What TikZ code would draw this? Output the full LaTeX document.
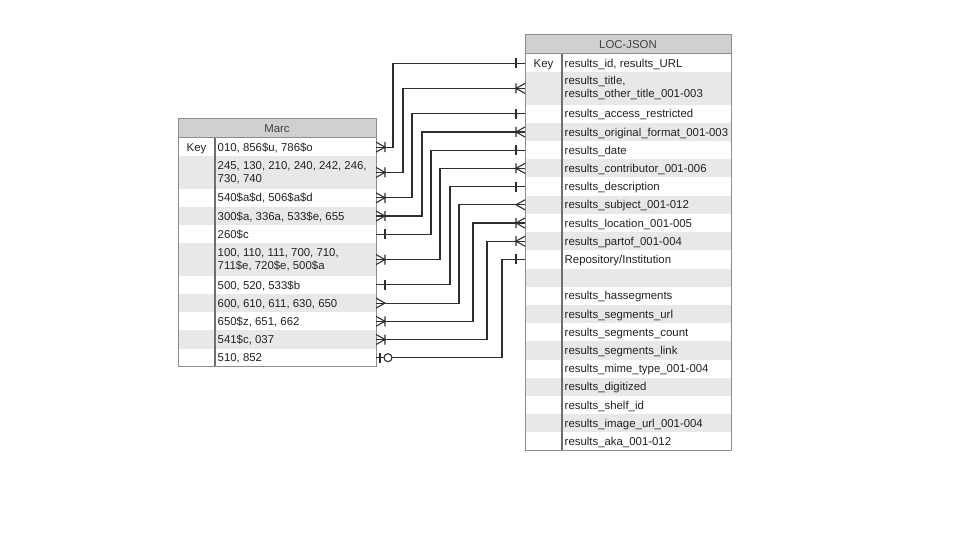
\documentclass[tikz,border=0pt]{standalone}
\usepackage{fontspec}
\setmainfont{Liberation Sans}
\definecolor{headfill}{HTML}{D0D0D0}
\definecolor{stripe}{HTML}{E8E8E8}
\definecolor{framecol}{HTML}{8C8C8C}
\definecolor{divcol}{HTML}{6E6E6E}
\definecolor{inkcol}{HTML}{222222}
\definecolor{wirecol}{HTML}{2E2E2E}

% one table row: name, top-left corner, width, height, fill, key text, field text
\newcommand\tabrow[7]{%
  \node[rowcell, minimum width=#3, minimum height=#4, fill=#5] (#1) at (#2) {};
  \node[keytxt] at ([xshift=18.5pt]#1.west) {#6};
  \node[fldtxt] at ([xshift=39.5pt]#1.west) {#7};
}
% same, for a field that wraps onto two lines
\newcommand\tabrowtwo[7]{%
  \node[rowcell, minimum width=#3, minimum height=#4, fill=#5] (#1) at (#2) {};
  \node[keytxt] at ([xshift=18.5pt]#1.west) {#6};
  \node[fldtwo] at ([xshift=39.5pt]#1.west) {#7};
}

\begin{document}
\begin{tikzpicture}[x=1pt,y=-1pt,
  rowcell/.style={shape=rectangle, draw=none, inner sep=0pt, outer sep=0pt, anchor=north west},
  headcell/.style={rowcell, fill=headfill, text=inkcol!85, font=\fontsize{11.4}{13}\selectfont,
                   text height=8.2pt, text depth=0pt},
  keytxt/.style={anchor=center, inner sep=0pt, text=inkcol, font=\fontsize{11.4}{13}\selectfont,
                 text height=8.2pt, text depth=0pt},
  fldtxt/.style={anchor=west, inner sep=0pt, text=inkcol, font=\fontsize{11.4}{13}\selectfont,
                 text height=8.2pt, text depth=0pt},
  fldtwo/.style={anchor=west, inner sep=0pt, text=inkcol, font=\fontsize{11.4}{13}\selectfont,
                 align=left},
  frame/.style={draw=framecol, line width=1pt},
  divider/.style={draw=divcol, line width=1.4pt},
  conn/.style={draw=wirecol, line width=1.1pt},
  crowbar/.pic={\draw[conn] (0,-5) -- (9,0) -- (0,5) (9,-5) -- (9,5);},
  crow/.pic={\draw[conn] (0,-5) -- (9,0) -- (0,5);},
  onebar/.pic={\draw[conn] (9,-5) -- (9,5);},
  zeroone/.pic={\draw[conn] (4,-5) -- (4,5); \draw[conn, fill=white] (12,0) circle (4);}
]
\useasboundingbox (0,0) rectangle (960,540);

% ---------------- Marc ----------------
\node[headcell, minimum width=198pt, minimum height=19pt] (mhead) at (178,119) {Marc};
\tabrow   {m1}{mhead.south west}{198pt}{18.2pt}{white}{Key}{010, 856\$u, 786\$o}
\tabrowtwo{m2}{m1.south west}{198pt}{32.5pt}{stripe}{}{245, 130, 210, 240, 242, 246,\\730, 740}
\tabrow   {m3}{m2.south west}{198pt}{18.2pt}{white}{}{540\$a\$d, 506\$a\$d}
\tabrow   {m4}{m3.south west}{198pt}{18.2pt}{stripe}{}{300\$a, 336a, 533\$e, 655}
\tabrow   {m5}{m4.south west}{198pt}{18.2pt}{white}{}{260\$c}
\tabrowtwo{m6}{m5.south west}{198pt}{32.5pt}{stripe}{}{100, 110, 111, 700, 710,\\711\$e, 720\$e, 500\$a}
\tabrow   {m7}{m6.south west}{198pt}{18.2pt}{white}{}{500, 520, 533\$b}
\tabrow   {m8}{m7.south west}{198pt}{18.2pt}{stripe}{}{600, 610, 611, 630, 650}
\tabrow   {m9}{m8.south west}{198pt}{18.2pt}{white}{}{650\$z, 651, 662}
\tabrow  {m10}{m9.south west}{198pt}{18.2pt}{stripe}{}{541\$c, 037}
\tabrow  {m11}{m10.south west}{198pt}{18.2pt}{white}{}{510, 852}
\draw[frame] (mhead.south west) -- (mhead.south east);
\draw[divider] ([xshift=37pt]m1.north west) -- ([xshift=37pt]m11.south west);
\draw[frame] (mhead.north west) rectangle (m11.south east);

% ---------------- LOC-JSON ----------------
\node[headcell, minimum width=206pt, minimum height=19pt] (jhead) at (525,35) {LOC-JSON};
\tabrow   {j1}{jhead.south west}{206pt}{18.2pt}{white}{Key}{results\_id, results\_URL}
\tabrowtwo{j2}{j1.south west}{206pt}{32.5pt}{stripe}{}{results\_title,\\results\_other\_title\_001-003}
\tabrow   {j3}{j2.south west}{206pt}{18.2pt}{white}{}{results\_access\_restricted}
\tabrow   {j4}{j3.south west}{206pt}{18.2pt}{stripe}{}{results\_original\_format\_001-003}
\tabrow   {j5}{j4.south west}{206pt}{18.2pt}{white}{}{results\_date}
\tabrow   {j6}{j5.south west}{206pt}{18.2pt}{stripe}{}{results\_contributor\_001-006}
\tabrow   {j7}{j6.south west}{206pt}{18.2pt}{white}{}{results\_description}
\tabrow   {j8}{j7.south west}{206pt}{18.2pt}{stripe}{}{results\_subject\_001-012}
\tabrow   {j9}{j8.south west}{206pt}{18.2pt}{white}{}{results\_location\_001-005}
\tabrow  {j10}{j9.south west}{206pt}{18.2pt}{stripe}{}{results\_partof\_001-004}
\tabrow  {j11}{j10.south west}{206pt}{18.2pt}{white}{}{Repository/Institution}
\tabrow  {j12}{j11.south west}{206pt}{18.2pt}{stripe}{}{}
\tabrow  {j13}{j12.south west}{206pt}{18.2pt}{white}{}{results\_hassegments}
\tabrow  {j14}{j13.south west}{206pt}{18.2pt}{stripe}{}{results\_segments\_url}
\tabrow  {j15}{j14.south west}{206pt}{18.2pt}{white}{}{results\_segments\_count}
\tabrow  {j16}{j15.south west}{206pt}{18.2pt}{stripe}{}{results\_segments\_link}
\tabrow  {j17}{j16.south west}{206pt}{18.2pt}{white}{}{results\_mime\_type\_001-004}
\tabrow  {j18}{j17.south west}{206pt}{18.2pt}{stripe}{}{results\_digitized}
\tabrow  {j19}{j18.south west}{206pt}{18.2pt}{white}{}{results\_shelf\_id}
\tabrow  {j20}{j19.south west}{206pt}{18.2pt}{stripe}{}{results\_image\_url\_001-004}
\tabrow  {j21}{j20.south west}{206pt}{18.2pt}{white}{}{results\_aka\_001-012}
\draw[frame] (jhead.south west) -- (jhead.south east);
\draw[divider] ([xshift=37pt]j1.north west) -- ([xshift=37pt]j21.south west);
\draw[frame] (jhead.north west) rectangle (j21.south east);

% ---------------- relationships ----------------
\draw[conn] (m1.east)  -- ++(17,0)  |- (j1.west);
\draw[conn] (m2.east)  -- ++(27,0)  |- (j2.west);
\draw[conn] (m3.east)  -- ++(36,0)  |- (j3.west);
\draw[conn] (m4.east)  -- ++(46,0)  |- (j4.west);
\draw[conn] (m5.east)  -- ++(55,0)  |- (j5.west);
\draw[conn] (m6.east)  -- ++(64,0)  |- (j6.west);
\draw[conn] (m7.east)  -- ++(74,0)  |- (j7.west);
\draw[conn] (m8.east)  -- ++(83,0)  |- (j8.west);
\draw[conn] (m9.east)  -- ++(97,0)  |- (j9.west);
\draw[conn] (m10.east) -- ++(111,0) |- (j10.west);
\draw[conn] (m11.east) -- ++(126,0) |- (j11.west);

% Marc-side ends
\pic at (m1.east)  {crowbar};
\pic at (m2.east)  {crowbar};
\pic at (m3.east)  {crowbar};
\pic at (m4.east)  {crowbar};
\pic at (m5.east)  {onebar};
\pic at (m6.east)  {crowbar};
\pic at (m7.east)  {onebar};
\pic at (m8.east)  {crow};
\pic at (m9.east)  {crowbar};
\pic at (m10.east) {crowbar};
\pic at (m11.east) {zeroone};

% LOC-JSON-side ends
\pic[xscale=-1] at (j1.west)  {onebar};
\pic[xscale=-1] at (j2.west)  {crowbar};
\pic[xscale=-1] at (j3.west)  {onebar};
\pic[xscale=-1] at (j4.west)  {crowbar};
\pic[xscale=-1] at (j5.west)  {onebar};
\pic[xscale=-1] at (j6.west)  {crowbar};
\pic[xscale=-1] at (j7.west)  {onebar};
\pic[xscale=-1] at (j8.west)  {crow};
\pic[xscale=-1] at (j9.west)  {crowbar};
\pic[xscale=-1] at (j10.west) {crowbar};
\pic[xscale=-1] at (j11.west) {onebar};
\end{tikzpicture}
\end{document}
